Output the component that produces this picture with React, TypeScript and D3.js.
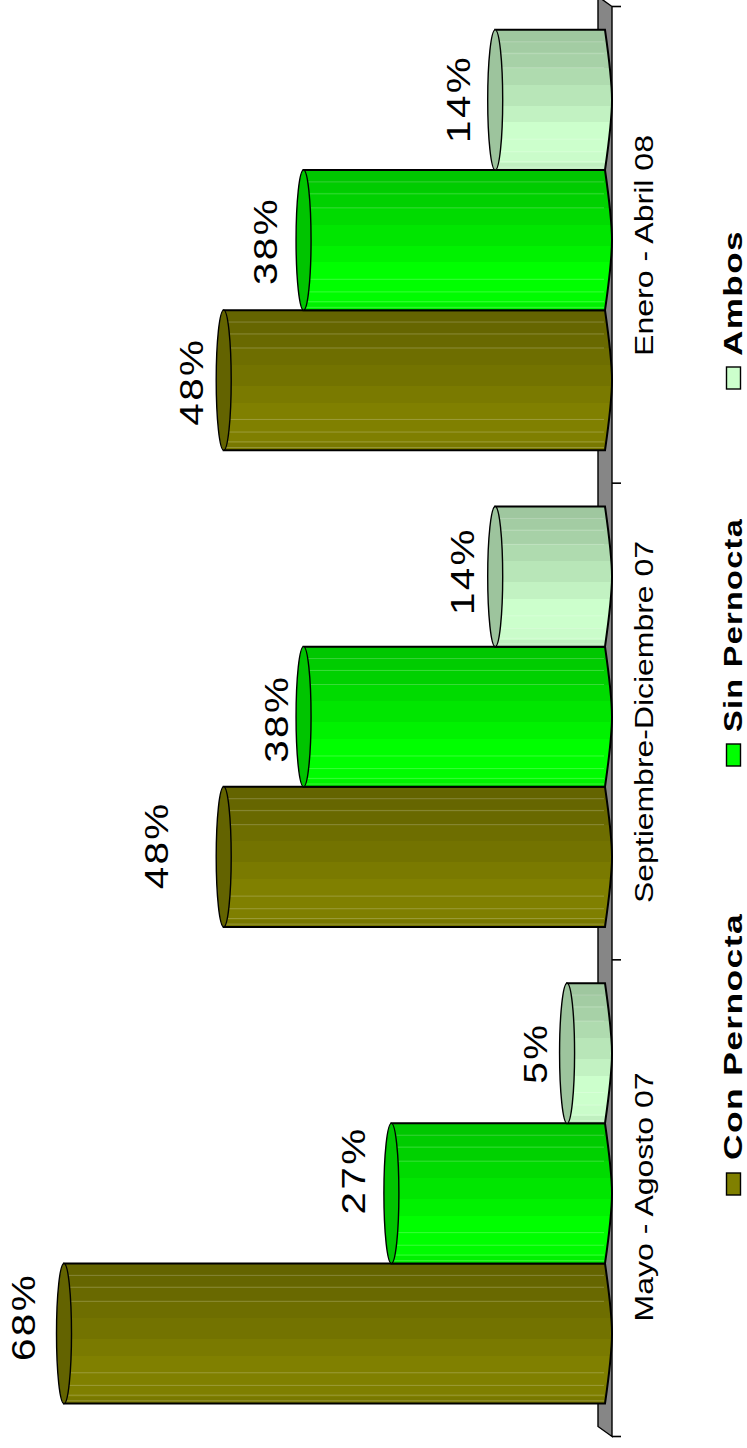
import React from "react";
import * as d3 from "d3";

const categories = ["Mayo - Agosto 07", "Septiembre-Diciembre 07", "Enero - Abril 08"];
const seriesNames = ["Con Pernocta", "Sin Pernocta", "Ambos"];
const conPernocta = [68, 48, 48];
const sinPernocta = [27, 38, 38];
const ambos = [5, 14, 14];
const seriesColors = ["#808000", "#00ff00", "#ccffcc"];
const tickValues = [0, 1, 2, 3];

// label layout (not data): gap from bar top to label baseline, and centre offset along the bar
const labelGap = [[29, 26, 20], [56, 16, 21], [21, 27, 25]];
const labelShift = [[-16.5, -23, 0], [-11.5, 2, -5.5], [1.5, 1, -1]];
const catCentres = [1197, 722, 245.5];
const catLengths = [249, 362, 221];
const legendStarts = [1160, 732, 356];
const legendLengths = [247, 214, 126];
const legendSwatch = [1184, 755, 378];

const bandStops = [0, 0.09, 0.16, 0.27, 0.39, 0.54, 0.66, 0.87, 0.95, 1];
const bandFactors = [0.78, 0.8, 0.82, 0.86, 0.9, 0.95, 1, 0.99, 0.94];
const glints = [0.085, 0.17, 0.27, 0.78, 0.87, 0.94, 0.98];

const font = "'Liberation Sans', Arial, sans-serif";
const W = 747, H = 1448;

const x = d3.scaleLinear().domain([0, 68]).range([607, 64]);
const y = d3.scaleLinear().domain([0, 3]).range([1436.5, 6.5]);
const values = [conPernocta, sinPernocta, ambos];

function shade(c: string, f: number) {
  const r = d3.rgb(c);
  return d3.rgb(r.r * f, r.g * f, r.b * f).formatHex();
}

export default function App() {
  const band = y(0) - y(1);
  const barH = band * 0.294;
  const bottomPad = band * 0.069;
  const wall = { l: 598, r: 612 };
  return (
    <svg width={W} height={H} style={{ position: "absolute", left: 0, top: 0, background: "#fff" }}>
      <defs>
        {seriesColors.map((c, i) => (
          <linearGradient key={i} id={`g${i}`} x1="0" y1="0" x2="0" y2="1">
            {bandFactors.flatMap((f, k) => [
              <stop key={k + "a"} offset={bandStops[k]} stopColor={shade(c, f)} />,
              <stop key={k + "b"} offset={bandStops[k + 1]} stopColor={shade(c, f)} />,
            ])}
          </linearGradient>
        ))}
      </defs>

      <path
        d={`M${wall.l},${y(3) - 10}L${wall.r},${y(3)}L${wall.r},${y(0)}L${wall.l},${y(0) - 10}Z`}
        fill="#868686"
        stroke="#000"
        strokeWidth={1.4}
      />
      {tickValues.map((t) => (
        <line key={t} x1={wall.r} x2={621} y1={y(t)} y2={y(t)} stroke="#000" strokeWidth={1.6} />
      ))}

      {categories.map((cat, ci) =>
        seriesNames.map((_, si) => {
          const v = values[si][ci];
          const bottom = y(ci) - bottomPad - si * barH;
          const top = bottom - barH;
          const mid = (top + bottom) / 2;
          const xt = x(v);
          const xb = x(0);
          const end = 612;
          const body = `M${xt},${top}L${xb - 2},${top}C${end - 3},${top + barH * 0.2} ${end},${top + barH * 0.35} ${end},${mid}C${end},${bottom - barH * 0.35} ${end - 3},${bottom - barH * 0.2} ${xb - 2},${bottom}L${xt},${bottom}Z`;
          return (
            <g key={si}>
              <path d={body} fill={`url(#g${si})`} />
              {glints.map((g, k) => (
                <line
                  key={k}
                  x1={xt}
                  x2={xb - 3}
                  y1={top + barH * g}
                  y2={top + barH * g}
                  stroke="#fff"
                  strokeOpacity={0.22}
                  strokeWidth={1}
                />
              ))}
              <path d={body} fill="none" stroke="#000" strokeWidth={2} />
              <ellipse
                cx={xt}
                cy={mid}
                rx={7.5}
                ry={barH / 2}
                fill={shade(seriesColors[si], 0.77)}
                stroke="#000"
                strokeWidth={1.4}
              />
            </g>
          );
        })
      )}

      {categories.map((cat, ci) =>
        seriesNames.map((_, si) => {
          const v = values[si][ci];
          const bottom = y(ci) - bottomPad - si * barH;
          const bx = x(v) - labelGap[ci][si];
          const by = bottom - barH / 2 + labelShift[ci][si];
          return (
            <text
              key={si}
              transform={`translate(${bx},${by}) rotate(-90)`}
              textAnchor="middle"
              fontFamily={font}
              fontSize={33}
              letterSpacing={2}
              textLength={String(v).length === 1 ? 61 : 88}
              lengthAdjust="spacingAndGlyphs"
              fill="#000"
            >
              {v}%
            </text>
          );
        })
      )}

      {categories.map((cat, ci) => (
        <text
          key={cat}
          transform={`translate(652.5,${catCentres[ci]}) rotate(-90)`}
          textAnchor="middle"
          fontFamily={font}
          fontSize={26.5}
          textLength={catLengths[ci]}
          lengthAdjust="spacingAndGlyphs"
          fill="#000"
        >
          {cat}
        </text>
      ))}

      {seriesNames.map((name, si) => (
        <g key={name}>
          <rect
            x={726.5}
            y={legendSwatch[si] - 11}
            width={14}
            height={22}
            fill={seriesColors[si]}
            stroke="#000"
            strokeWidth={1.4}
          />
          <text
            transform={`translate(741.7,${legendStarts[si]}) rotate(-90)`}
            fontFamily={font}
            fontWeight="bold"
            fontSize={25}
            letterSpacing={1}
            textLength={legendLengths[si]}
            lengthAdjust="spacingAndGlyphs"
            fill="#000"
          >
            {name}
          </text>
        </g>
      ))}
    </svg>
  );
}
